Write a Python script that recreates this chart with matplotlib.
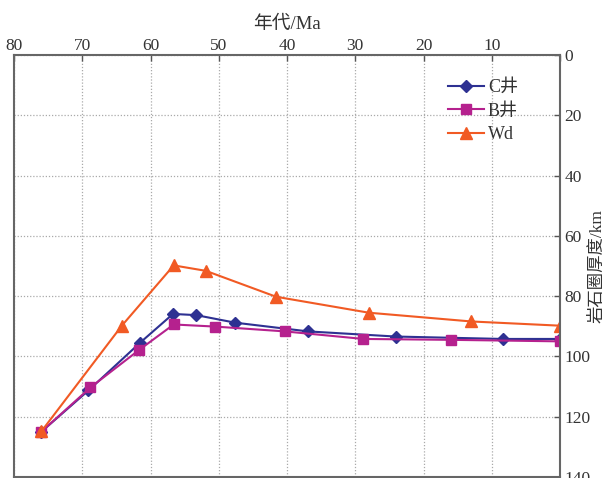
import matplotlib
matplotlib.use("Agg")
import matplotlib.pyplot as plt

plt.rcParams['font.family'] = ['Liberation Serif', 'Noto Sans CJK SC']

# -----------------------------
# data (age in Ma, lithosphere thickness in km)
# -----------------------------
c_age = [76.0, 69.1, 61.5, 56.7, 53.3, 47.6, 36.9, 24.1, 8.4, 0.0]
c_depth = [125.0, 111.3, 95.4, 85.9, 86.3, 88.8, 91.7, 93.4, 94.2, 94.2]

b_age = [76.0, 68.8, 61.7, 56.6, 50.5, 40.3, 28.8, 15.9, 0.0]
b_depth = [125.0, 110.3, 97.9, 89.4, 90.1, 91.7, 94.2, 94.5, 95.0]

wd_age = [76.0, 64.2, 56.6, 51.9, 41.6, 28.0, 13.0, 0.0]
wd_depth = [124.9, 89.8, 69.8, 71.6, 80.2, 85.5, 88.4, 89.8]

x_ticks = [80, 70, 60, 50, 40, 30, 20, 10, 0]
x_labels = ["80", "70", "60", "50", "40", "30", "20", "10", ""]
y_ticks = [0, 20, 40, 60, 80, 100, 120, 140]

# -----------------------------
# figure
# -----------------------------
fig = plt.figure(figsize=(6.07, 4.78), dpi=100)
ax = fig.add_axes([14 / 607, 1 - 477 / 478, 546 / 607, (477 - 55) / 478])

ax.plot(c_age, c_depth, color="#2E3192", marker="D", markersize=6, lw=1.5, label="C井")
ax.plot(b_age, b_depth, color="#B5218E", marker="s", markersize=7.5, lw=1.5, label="B井")
ax.plot(wd_age, wd_depth, color="#F15A24", marker="^", markersize=8, lw=1.5, label="Wd")

ax.set_xlim(80, 0)
ax.set_ylim(140, 0)

ax.xaxis.tick_top()
ax.xaxis.set_label_position("top")
ax.yaxis.tick_right()
ax.yaxis.set_label_position("right")

ax.set_xticks(x_ticks)
ax.set_xticklabels(x_labels)
ax.set_yticks(y_ticks)
ax.tick_params(direction="in", length=4, width=1, color="#555555",
               labelsize=12.5, labelcolor="#333333")
ax.tick_params(axis="x", pad=1)
ax.tick_params(axis="y", pad=3)

ax.grid(True, linestyle=(0, (1, 1.5)), color="#aaaaaa", linewidth=0.9)

for s in ax.spines.values():
    s.set_color("#666666")
    s.set_linewidth(1.5)

ax.set_xlabel("年代/Ma", fontsize=13.5, color="#333333", labelpad=6)
ax.set_ylabel("岩石圈厚度/km", fontsize=12.5, color="#333333", rotation=90)
ax.yaxis.set_label_coords(1.053, 0.5)

leg = ax.legend(loc="upper left", bbox_to_anchor=(0.795, 0.943), frameon=False,
                fontsize=13, handlelength=2.0, labelspacing=0.36, handletextpad=0.2,
                borderpad=0, borderaxespad=0)
for t in leg.get_texts():
    t.set_color("#333333")

fig.savefig("out.png", dpi=100)
